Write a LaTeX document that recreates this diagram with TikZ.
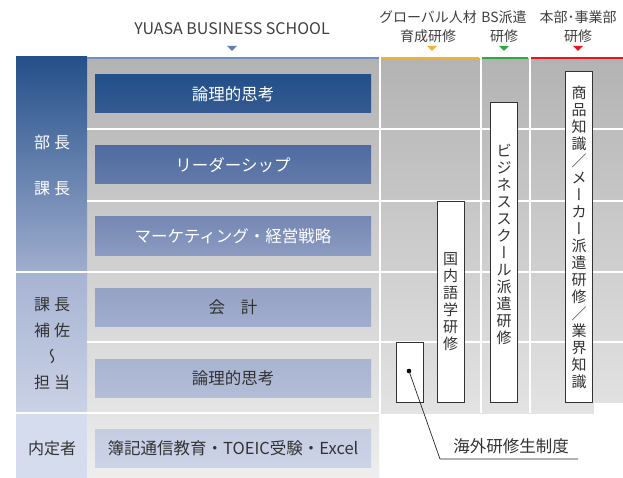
\documentclass[tikz,border=0pt]{standalone}
\usepackage{fontspec}
\usepackage{graphicx}
\setmainfont{Noto Sans CJK JP}
\newfontfamily\vertfont[RawFeature={+vert}]{Noto Sans CJK JP}
\usetikzlibrary{shapes.geometric}
\definecolor{grayTop}{HTML}{B3B3B3}
\definecolor{grayMid}{HTML}{E3E3E3}
\definecolor{grayBot}{HTML}{EEEEEE}
\definecolor{leftA}{HTML}{24508A}
\definecolor{leftB}{HTML}{A0ADCE}
\definecolor{leftC}{HTML}{A6B3D2}
\definecolor{leftD}{HTML}{CAD2E6}
\definecolor{leftE}{HTML}{D5DCEE}
\definecolor{boxA1}{HTML}{22508A}
\definecolor{boxA2}{HTML}{365A91}
\definecolor{boxB1}{HTML}{4F6BA0}
\definecolor{boxB2}{HTML}{647BAA}
\definecolor{boxC1}{HTML}{7587B3}
\definecolor{boxC2}{HTML}{8B9BC1}
\definecolor{boxD1}{HTML}{95A2C5}
\definecolor{boxD2}{HTML}{A1ADCE}
\definecolor{boxE1}{HTML}{A9B4D2}
\definecolor{boxE2}{HTML}{B3BDD8}
\definecolor{boxF1}{HTML}{C5CDE3}
\definecolor{boxF2}{HTML}{CCD3E7}
\definecolor{lineBlue}{HTML}{6E8EC2}
\definecolor{triBlue}{HTML}{5C7FB8}
\definecolor{lineOrange}{HTML}{F2B233}
\definecolor{lineGreen}{HTML}{2EA843}
\definecolor{lineRed}{HTML}{E8141E}
\definecolor{txtDark}{HTML}{333333}
\definecolor{txtHead}{HTML}{404040}
\tikzset{
  course/.style={minimum width=276pt, minimum height=38pt, inner sep=0pt,
    font=\fontsize{16.5}{18}\selectfont},
  lightcourse/.style={course, text=txtDark},
  darkcourse/.style={course, text=white},
  headtxt/.style={font=\fontsize{14}{19}\selectfont, text=txtHead, align=center, inner sep=0pt},
  tri/.style={isosceles triangle, isosceles triangle apex angle=90, shape border rotate=-90,
    minimum width=9pt, minimum height=5pt, inner sep=0pt},
  vbox/.style={draw=black!80, line width=0.8pt, fill=white, minimum width=27pt, inner sep=0pt},
  vtxt/.style={font=\fontsize{15}{17}\selectfont, text=txtDark, align=center, inner sep=0pt},
  sidelbl/.style={font=\fontsize{16}{26}\selectfont, align=center, inner sep=0pt},
  sep/.style={white, line width=2pt},
}
\newcommand{\vb}{{\vertfont ー}}
\begin{document}
\begin{tikzpicture}[x=1pt, y=-1pt]
\useasboundingbox (0,0) rectangle (623,478);
\fill[white] (0,0) rectangle (623,478);
% gray backgrounds
\shade[top color=grayTop, bottom color=grayBot] (87,59) rectangle (379,478);
\shade[top color=grayTop, bottom color=grayMid] (381,59) rectangle (623,413);
\fill[white] (594,403) rectangle (623,414);
% left column
\shade[top color=leftA, bottom color=leftB] (16,57) rectangle (87,272);
\shade[top color=leftC, bottom color=leftD] (16,272) rectangle (87,413);
\fill[leftE] (16,413) rectangle (87,478);
% separators
\draw[sep] (87,129) -- (623,129);
\draw[sep] (87,201) -- (623,201);
\draw[sep] (16,272) -- (623,272);
\draw[sep] (87,342) -- (623,342);
\draw[sep] (16,413) -- (379,413);
\draw[sep] (380,57) -- (380,413);
\draw[sep] (480.5,57) -- (480.5,413);
\draw[sep] (529.5,57) -- (529.5,413);
% top colored lines
\fill[lineBlue] (87,57) rectangle (379,59.5);
\fill[lineOrange] (381,57) rectangle (479,59.5);
\fill[lineGreen] (482,57) rectangle (528,59.5);
\fill[lineRed] (531,57) rectangle (623,59.5);
% headers
\node[headtxt, font=\fontsize{16}{19}\selectfont] (hYuasa) at (232,29) {YUASA BUSINESS SCHOOL};
\node[tri, fill=triBlue] (tYuasa) at (232,48) {};
\node[headtxt] (hGlobal) at (428,27) {グローバル人材\\育成研修};
\node[tri, fill=lineOrange] (tGlobal) at (432,48) {};
\node[headtxt] (hBS) at (504,27) {BS派遣\\研修};
\node[tri, fill=lineGreen] (tBS) at (504,48) {};
\node[headtxt] (hHQ) at (578,27) {本部･事業部\\研修};
\node[tri, fill=lineRed] (tHQ) at (578,48) {};
% side labels
\node[sidelbl, text=white] (sBucho) at (52,142) {部\hspace{4pt}長};
\node[sidelbl, text=white] (sKacho) at (52,189) {課\hspace{4pt}長};
\node[sidelbl, text=txtDark] (sHosa) at (52,344) {課\hspace{4pt}長\\補\hspace{4pt}佐\\{\vertfont 〜}\\担\hspace{4pt}当};
\node[sidelbl, text=txtDark] (sNaitei) at (52,448) {内定者};
% courses
\node[darkcourse, top color=boxA1, bottom color=boxA2] (c1) at (233,94) {論理的思考};
\node[darkcourse, top color=boxB1, bottom color=boxB2] (c2) at (233,165) {リーダーシップ};
\node[darkcourse, top color=boxC1, bottom color=boxC2] (c3) at (233,236) {マーケティング・経営戦略};
\node[lightcourse, top color=boxD1, bottom color=boxD2] (c4) at (233,307.5) {会\hspace{16pt}計};
\node[lightcourse, top color=boxE1, bottom color=boxE2] (c5) at (233,378.5) {論理的思考};
\node[lightcourse, top color=boxF1, bottom color=boxF2] (c6) at (233,448) {簿記通信教育・TOEIC受験・Excel};
% vertical boxes
\node[vbox, minimum height=60pt] (vKaigai) at (409.5,372) {};
\node[vbox, minimum height=201pt] (vGogaku) at (450.5,301.5) {};
\node[vbox, minimum height=300pt] (vBS) at (504,252) {};
\node[vbox, minimum height=331pt] (vHQ) at (579,236.5) {};
\node[vtxt] (tGogaku) at (450.5,301.5) {国\\内\\語\\学\\研\\修};
\node[vtxt] (tBSt) at (504,244) {ビ\\ジ\\ネ\\ス\\ス\\ク\\\vb\\ル\\派\\遣\\研\\修};
\node[vtxt] (tHQt) at (579,237) {商\\品\\知\\識\\／\\メ\\\vb\\カ\\\vb\\派\\遣\\研\\修\\／\\業\\界\\知\\識};
% leader
\coordinate (kDot) at (409,371);
\coordinate (kBend) at (440,459);
\coordinate (kEnd) at (578,459);
\fill[black] (kDot) circle (2.3);
\node[font=\fontsize{16.5}{18}\selectfont, text=txtDark, inner sep=0pt] (kLabel) at (511,446) {海外研修生制度};
\draw[black!85, line width=0.7pt] (kDot) -- (kBend) -- (kEnd);
\end{tikzpicture}
\end{document}
